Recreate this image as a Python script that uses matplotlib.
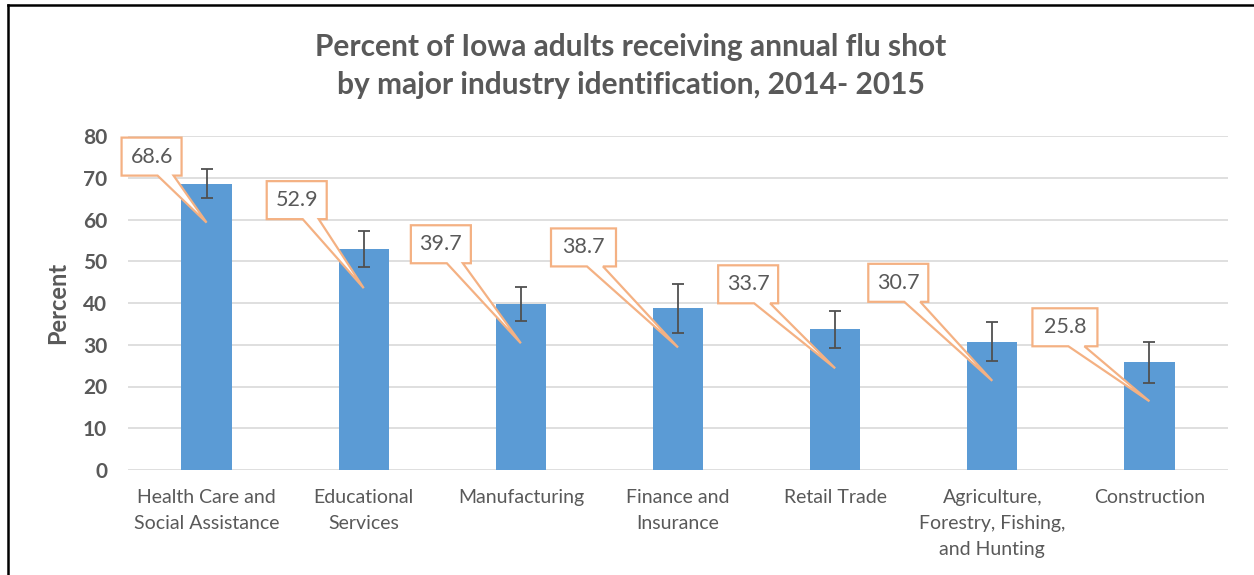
import matplotlib.pyplot as plt
from matplotlib.patches import Polygon
from matplotlib.transforms import ScaledTranslation
from matplotlib.lines import Line2D

# data
industries = ["Health Care and\nSocial Assistance", "Educational\nServices", "Manufacturing",
              "Finance and\nInsurance", "Retail Trade", "Agriculture,\nForestry, Fishing,\nand Hunting",
              "Construction"]
percent = [68.6, 52.9, 39.7, 38.7, 33.7, 30.7, 25.8]
err = [3.5, 4.3, 4.1, 5.8, 4.5, 4.7, 4.85]

# callout layout, pixels relative to bar top: box left, box bottom, box width
box_left = [-85, -97, -110, -127, -117, -124, -117]
box_bottom = [8, 30, 41, 42, 26, 40, 16]
box_width = [60, 60, 60, 65, 60, 60, 65]

grey = '#595959'
plt.rcParams['font.family'] = ['Lato', 'DejaVu Sans']

fig = plt.figure(figsize=(12.54, 5.75), dpi=100)
ax = fig.add_axes([128/1254, 105/575, 1100/1254, 334/575])

x = range(len(percent))
ax.bar(x, percent, width=0.32, color='#5B9BD5', zorder=2)
ax.errorbar(x, percent, yerr=err, fmt='none', ecolor='#505050', elinewidth=1.3,
            capsize=4, capthick=1.3, zorder=3)

ax.set_ylim(0, 80)
ax.set_xlim(-0.5, len(percent) - 0.5)
ax.set_yticks(range(0, 81, 10))
ax.set_xticks(list(x))
ax.set_xticklabels(industries, fontsize=14, color=grey, linespacing=1.62)
ax.tick_params(axis='both', length=0)
ax.tick_params(axis='x', pad=14)
ax.tick_params(axis='y', pad=15)
for t in ax.get_yticklabels():
    t.set_fontweight('bold'); t.set_fontsize(15); t.set_color(grey)
ax.yaxis.grid(True, color='#D9D9D9', linewidth=1.2, zorder=0)
for s in ax.spines.values():
    s.set_visible(False)
ax.set_ylabel('Percent', fontsize=17, fontweight='bold', color=grey, labelpad=10)

# speech-bubble callouts
H = 38
for i, v in enumerate(percent):
    L, B, W = box_left[i], box_bottom[i], box_width[i]
    tip = (0, -39)
    pts = [(L, B), (L + 36, B), tip, (L + 52, B), (L + W, B), (L + W, B + H), (L, B + H)]
    pts = [(px / 100, py / 100) for px, py in pts]
    tr = fig.dpi_scale_trans + ScaledTranslation(i, v, ax.transData)
    ax.add_patch(Polygon(pts, closed=True, transform=tr, facecolor='white',
                         edgecolor='#F4B183', linewidth=1.6, zorder=5, clip_on=False))
    ax.text((L + W / 2) / 100, (B + H / 2) / 100, f"{v:.1f}", transform=tr,
            ha='center', va='center', fontsize=15.5, color=grey, zorder=6)

fig.text(631/1254, 1 - 66/575, "Percent of Iowa adults receiving annual flu shot\nby major industry identification, 2014- 2015",
         ha='center', va='center', fontsize=21.5, fontweight='bold', color=grey, linespacing=1.45)

# frame lines at top and left
fig.add_artist(Line2D([8/1254, 1], [1 - 5/575, 1 - 5/575], color='black', linewidth=1.8))
fig.add_artist(Line2D([8/1254, 8/1254], [0, 1 - 5/575], color='black', linewidth=1.8))

fig.savefig('out.png', dpi=100)
